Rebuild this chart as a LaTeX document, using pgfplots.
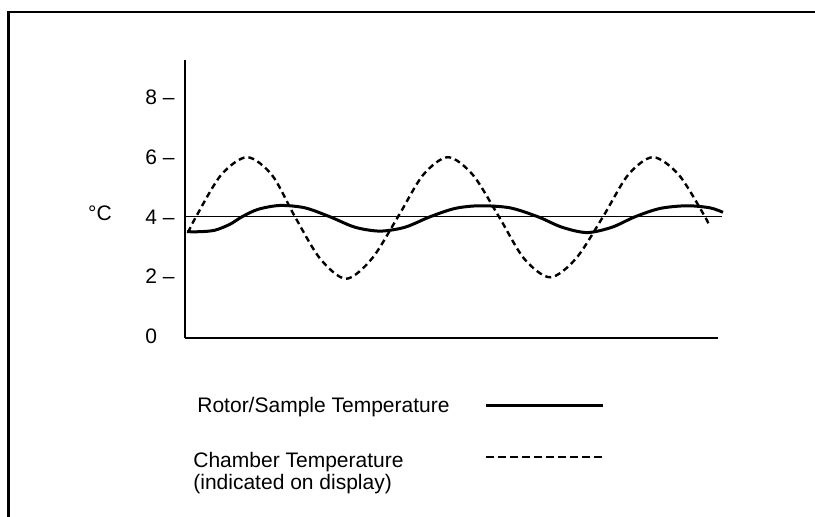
\documentclass[border=0pt]{standalone}
\usepackage{fontspec}
\setmainfont{Liberation Sans}
\usepackage{pgfplots}
\pgfplotsset{compat=1.18}
\begin{document}
\fontsize{10.5}{12.5}\selectfont
\begin{tikzpicture}
\useasboundingbox (0,0) rectangle (407.5pt,258.5pt);
\draw[line width=1.3pt] (4.3pt,-3pt) -- (4.3pt,252.5pt) -- (408pt,252.5pt);
\begin{axis}[at={(92.5pt,89.5pt)}, anchor=south west, scale only axis,
  width=266.5pt, height=139pt,
  xmin=185, xmax=718, ymin=-0.067, ymax=9.262,
  axis x line*=bottom, axis y line*=left,
  x axis line style={line width=0.6pt,-},
  y axis line style={line width=1pt,-},
  xtick=\empty, ytick={0,2,4,6,8},
  yticklabels={0\phantom{~–},2~–,4~–,6~–,8~–},
  major tick length=0pt,
  yticklabel style={inner sep=0pt, xshift=-5pt},
  clip=false]
% reference line at 4
\addplot[line width=0.6pt] coordinates {(185,4) (722,4)};
% chamber temperature (dashed)
\addplot[line width=1.2pt, dash pattern=on 3pt off 2pt, smooth] coordinates {
(188,3.47) (196,4.0) (221,5.4) (247,6.0) (272,5.4) (295,4.0) (320,2.6) (346,1.92)
(372,2.6) (398,4.0) (423,5.4) (448,6.0) (473,5.4) (499,4.0) (524,2.6) (550,1.97)
(576,2.6) (603,4.0) (628,5.4) (653,6.0) (679,5.4) (705,4.0) (709,3.7)};
% rotor/sample temperature (solid)
\addplot[line width=1.5pt, smooth] coordinates {
(187,3.5) (200,3.5) (215,3.55) (230,3.75) (242,4.0) (258,4.25) (280,4.38) (305,4.3)
(330,4.0) (355,3.65) (380,3.52) (405,3.65) (430,4.0) (455,4.28) (480,4.37) (510,4.3)
(538,4.0) (562,3.65) (587,3.47) (612,3.65) (635,4.0) (660,4.28) (687,4.37) (710,4.3)
(723,4.15)};
\end{axis}
\node at (50pt,152pt) {°C};
% legend
\node[anchor=base west, inner sep=0pt] at (98.5pt,52pt) {Rotor/Sample Temperature};
\draw[line width=1.5pt] (243pt,55.5pt) -- (301.5pt,55.5pt);
\node[anchor=base west, inner sep=0pt] at (96.5pt,24.5pt) {Chamber Temperature};
\node[anchor=base west, inner sep=0pt] at (96.5pt,13.5pt) {(indicated on display)};
\draw[line width=1.2pt, dash pattern=on 4pt off 2pt] (243pt,30pt) -- (301.5pt,30pt);
\end{tikzpicture}
\end{document}
